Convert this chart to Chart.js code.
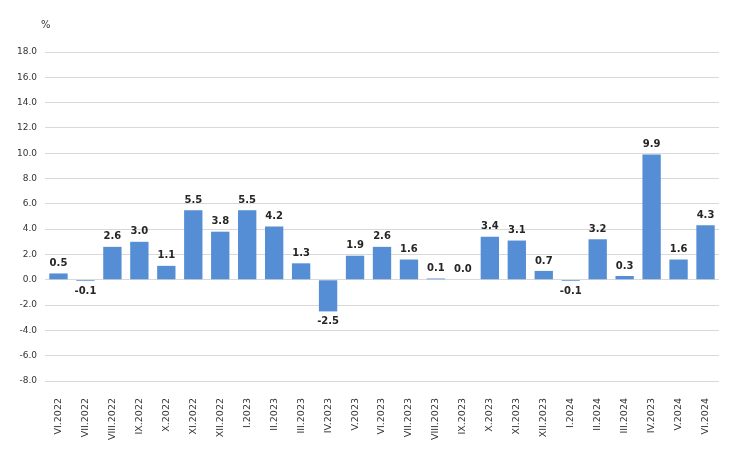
<!DOCTYPE html>
<html>
<head>
<meta charset="utf-8">
<script src="https://cdn.jsdelivr.net/npm/chart.js@4/dist/chart.umd.min.js"></script>
<style>
  html, body { margin: 0; padding: 0; background: #fff; }
  #wrap { position: relative; width: 740px; height: 471px; }
  #unit { position: absolute; left: 41px; top: 19px; font: 10px "DejaVu Sans", sans-serif; color: #333; }
</style>
</head>
<body>
<div id="wrap">
  <canvas id="c" width="740" height="471"></canvas>
  <div id="unit">%</div>
</div>
<script>
  // months on the x axis (kept as in the source, incl. "IV.2023" near the end)
  var months = ["VI.2022", "VII.2022", "VIII.2022", "IX.2022", "X.2022", "XI.2022", "XII.2022",
    "I.2023", "II.2023", "III.2023", "IV.2023", "V.2023", "VI.2023", "VII.2023", "VIII.2023",
    "IX.2023", "X.2023", "XI.2023", "XII.2023", "I.2024", "II.2024", "III.2024", "IV.2023",
    "V.2024", "VI.2024"];
  var values = [0.5, -0.1, 2.6, 3.0, 1.1, 5.5, 3.8, 5.5, 4.2, 1.3, -2.5, 1.9, 2.6, 1.6, 0.1,
    0.0, 3.4, 3.1, 0.7, -0.1, 3.2, 0.3, 9.9, 1.6, 4.3];
  var yMin = -8, yMax = 18, yStep = 2;

  var barLabels = {
    id: "barLabels",
    afterDatasetsDraw: function (chart) {
      var ctx = chart.ctx;
      var meta = chart.getDatasetMeta(0);
      ctx.save();
      ctx.font = "bold 10px 'DejaVu Sans', sans-serif";
      ctx.fillStyle = "#262626";
      ctx.textAlign = "center";
      ctx.textBaseline = "middle";
      meta.data.forEach(function (bar, i) {
        var v = values[i];
        var y = v < 0 ? bar.y + 10 : bar.y - 10;
        ctx.fillText(v.toFixed(1), bar.x, y);
      });
      ctx.restore();
    }
  };

  new Chart(document.getElementById("c"), {
    type: "bar",
    data: {
      labels: months,
      datasets: [{
        data: values,
        backgroundColor: "#558ed5",
        borderWidth: 0,
        barPercentage: 0.68,
        categoryPercentage: 1
      }]
    },
    options: {
      responsive: false,
      animation: false,
      layout: { padding: { top: 52, right: 21, left: 0, bottom: 0 } },
      plugins: { legend: { display: false }, tooltip: { enabled: false } },
      scales: {
        x: {
          grid: { display: false, drawTicks: false },
          border: { display: false },
          ticks: {
            minRotation: 90, maxRotation: 90, autoSkip: false, padding: 17,
            color: "#333", font: { family: "'DejaVu Sans', sans-serif", size: 9.5 }
          },
          afterFit: function (s) { s.height = 90; }
        },
        y: {
          min: yMin, max: yMax,
          grid: { color: "#d9d9d9", drawTicks: false },
          border: { display: false },
          ticks: {
            stepSize: yStep, padding: 8,
            color: "#333", font: { family: "'DejaVu Sans', sans-serif", size: 9 },
            callback: function (v) { return Number(v).toFixed(1); }
          },
          afterFit: function (s) { s.width = 45; }
        }
      }
    },
    plugins: [barLabels]
  });
</script>
</body>
</html>
